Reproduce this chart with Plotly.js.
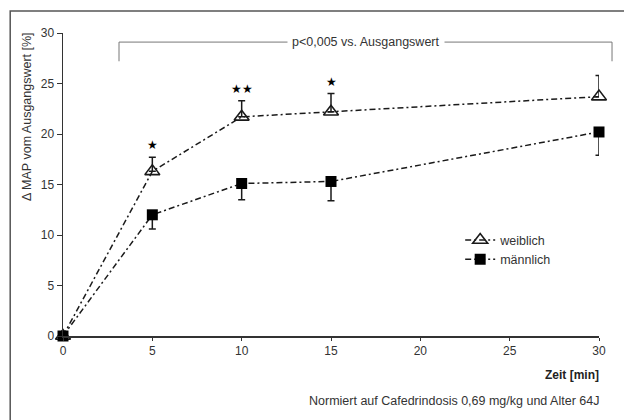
<!DOCTYPE html>
<html><head><meta charset="utf-8">
<script src="https://cdn.plot.ly/plotly-3.0.1.min.js"></script>
<style>html,body{margin:0;padding:0;background:#fff}#c{width:624px;height:420px}</style>
</head><body><div id="c"></div>
<script>
const zeit = [0, 5, 10, 15, 30];
const weiblich = [0, 16.3, 21.7, 22.2, 23.7];
const weiblichErr = [0, 1.4, 1.6, 1.8, 2.1];
const maennlich = [0, 12.0, 15.1, 15.3, 20.2];
const maennlichErr = [0, 1.4, 1.6, 1.9, 2.3];
const signif = ["", "★", "★★", "★", ""];
const xTicks = [0, 5, 10, 15, 20, 25, 30];
const yTicks = [0, 5, 10, 15, 20, 25, 30];

const FONT = "Liberation Sans, Arial, sans-serif";
const dash = "6px,3px,2px,3px";
const traces = [
  {x: zeit, y: weiblich, name: "weiblich", mode: "lines+markers", cliponaxis: false,
   line: {color: "#1a1a1a", width: 1.5, dash: dash},
   marker: {symbol: "triangle-up-open", size: 13, color: "#1a1a1a", line: {width: 1.6, color: "#1a1a1a"}},
   error_y: {type: "data", symmetric: false, array: weiblichErr, arrayminus: zeit.map(() => 0),
             color: "#1a1a1a", thickness: 1.5, width: 3.5}},
  {x: zeit, y: maennlich, name: "männlich", mode: "lines+markers", cliponaxis: false,
   line: {color: "#1a1a1a", width: 1.5, dash: dash},
   marker: {symbol: "square", size: 11, color: "#000"},
   error_y: {type: "data", symmetric: false, array: zeit.map(() => 0), arrayminus: maennlichErr,
             color: "#1a1a1a", thickness: 1.5, width: 3.5}}
];

const ann = [];
zeit.forEach((x, i) => {
  if (signif[i]) ann.push({x: x, y: weiblich[i] + weiblichErr[i], xref: "x", yref: "y", text: signif[i],
    showarrow: false, yanchor: "bottom", yshift: 3, font: {size: 12, color: "#000"}});
});
ann.push({x: 0.565, y: 29.1, xref: "paper", yref: "y", text: "p<0,005 vs. Ausgangswert", showarrow: false,
  bgcolor: "#fff", borderpad: 4, font: {size: 12.5, color: "#333", family: FONT}});
ann.push({x: 1.003, y: 0, xref: "paper", yref: "paper", xanchor: "right", yanchor: "top", yshift: -30,
  text: "<b>Zeit [min]</b>", showarrow: false, font: {size: 12, color: "#222", family: FONT}});
ann.push({x: 1.003, y: 0, xref: "paper", yref: "paper", xanchor: "right", yanchor: "top", yshift: -56,
  text: "Normiert auf Cafedrindosis 0,69 mg/kg und Alter 64J", showarrow: false, font: {size: 12.5, color: "#333", family: FONT}});
ann.push({x: -0.067, y: 0.723, xref: "paper", yref: "paper", xanchor: "center", yanchor: "middle", textangle: -90,
  text: "Δ MAP vom Ausgangswert [%]", showarrow: false, font: {size: 12.5, color: "#333", family: FONT}});

const shapes = [
  {type: "path", xref: "paper", yref: "y", path: "M 0.1045 27.2 L 0.1045 29.1 L 1.0243 29.1 L 1.0243 27.2",
   line: {color: "#777", width: 1}},
  {type: "path", xref: "paper", yref: "paper", path: "M -0.0985 -0.3 L -0.0985 1.0726 L 1.07 1.0726",
   line: {color: "#555", width: 1.5}}
];

const layout = {
  width: 624, height: 420,
  margin: {l: 63, r: 25, t: 33, b: 84},
  paper_bgcolor: "#fff", plot_bgcolor: "#fff",
  font: {family: FONT, size: 12, color: "#333"},
  showlegend: true,
  legend: {x: 0.741, y: 0.284, xanchor: "left", yanchor: "middle", bgcolor: "rgba(0,0,0,0)",
           font: {size: 12.5, color: "#333", family: FONT}, tracegroupgap: 0, itemwidth: 30},
  xaxis: {range: [0, 30], tickvals: xTicks, ticktext: xTicks.map(String), showgrid: false, zeroline: false,
          showline: true, linecolor: "#333", linewidth: 1.5, ticks: "outside", ticklen: 3, tickcolor: "#333",
          tickfont: {size: 12, color: "#333", family: FONT}, fixedrange: true},
  yaxis: {range: [0, 30], tickvals: yTicks, ticktext: yTicks.map(String), showgrid: false, zeroline: false,
          showline: true, linecolor: "#333", linewidth: 1.5, ticks: "outside", ticklen: 5, tickcolor: "#333",
          tickfont: {size: 12, color: "#333", family: FONT}, fixedrange: true},
  annotations: ann,
  shapes: shapes
};
Plotly.newPlot("c", traces, layout, {displayModeBar: false, staticPlot: true});
</script></body></html>
